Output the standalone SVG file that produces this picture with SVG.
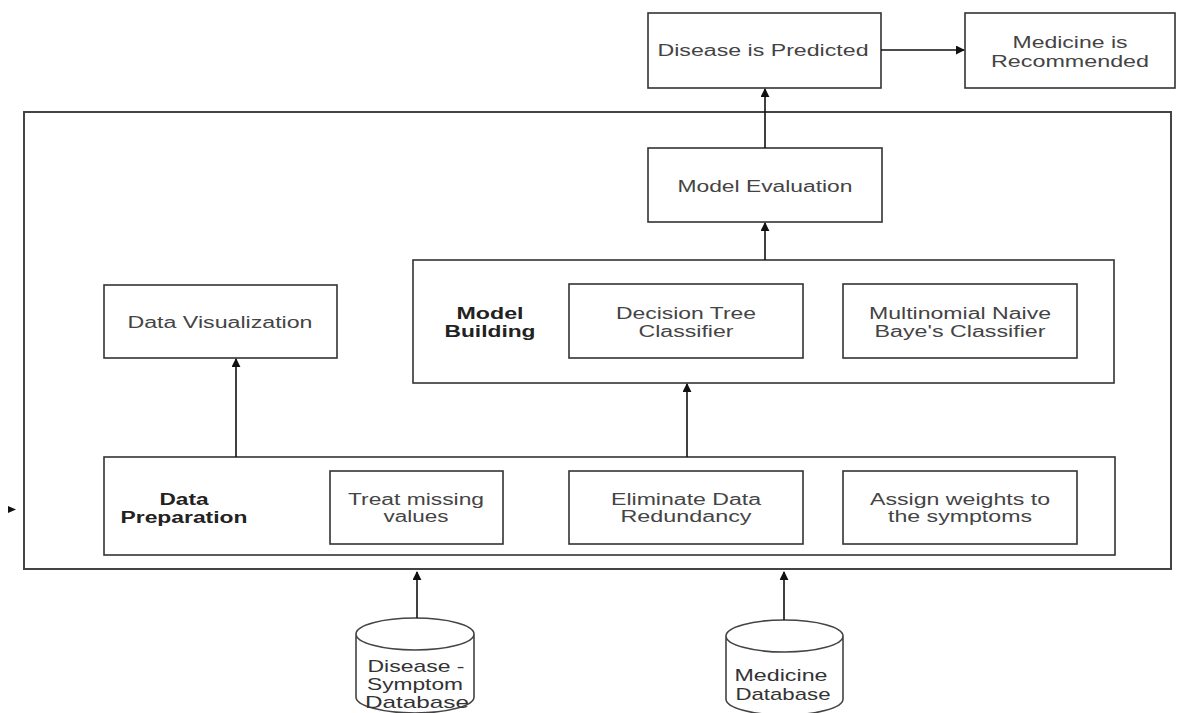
<svg xmlns="http://www.w3.org/2000/svg" width="1191" height="713" viewBox="0 0 1191 713">
<defs>
<marker id="ah" viewBox="0 0 10 10" refX="9" refY="5" markerWidth="9" markerHeight="9" markerUnits="userSpaceOnUse" orient="auto">
<path d="M0,0 L10,5 L0,10 z" fill="#111"/>
</marker>
<style>
.box{fill:#fff;stroke:#333;stroke-width:1.6}
.outer{fill:none;stroke:#444;stroke-width:2}
.t{font-family:"Liberation Sans",Arial,sans-serif;font-size:16px;fill:#444;text-anchor:middle}
.b{font-weight:bold;fill:#222}
.d{font-size:17px;fill:#333}
.db{fill:#fff;stroke:#444;stroke-width:1.6}
.conn{stroke:#111;stroke-width:1.6;fill:none}
</style>
</defs>
<rect width="1191" height="713" fill="#fff"/>
<g id="outer"><rect class="outer" x="24" y="112" width="1147" height="457"/></g>
<g id="disease-predicted"><rect class="box" x="648" y="13" width="233" height="75"/>
<text class="t" x="763" y="56" textLength="211" lengthAdjust="spacingAndGlyphs">Disease is Predicted</text></g>
<g id="medicine-recommended"><rect class="box" x="965" y="13" width="210" height="75"/>
<text class="t" x="1070" y="48" textLength="115" lengthAdjust="spacingAndGlyphs">Medicine is</text>
<text class="t" x="1070" y="67" textLength="158" lengthAdjust="spacingAndGlyphs">Recommended</text></g>
<g id="model-evaluation"><rect class="box" x="648" y="148" width="234" height="74"/>
<text class="t" x="765" y="192" textLength="175" lengthAdjust="spacingAndGlyphs">Model Evaluation</text></g>
<g id="model-building"><rect class="box" x="413" y="260" width="701" height="123"/>
<text class="t b" x="490" y="319" textLength="67" lengthAdjust="spacingAndGlyphs">Model</text>
<text class="t b" x="490" y="337" textLength="91" lengthAdjust="spacingAndGlyphs">Building</text></g>
<g id="decision-tree"><rect class="box" x="569" y="284" width="234" height="74"/>
<text class="t" x="686" y="319" textLength="140" lengthAdjust="spacingAndGlyphs">Decision Tree</text>
<text class="t" x="686" y="337" textLength="95" lengthAdjust="spacingAndGlyphs">Classifier</text></g>
<g id="naive-bayes"><rect class="box" x="843" y="284" width="234" height="74"/>
<text class="t" x="960" y="319" textLength="182" lengthAdjust="spacingAndGlyphs">Multinomial Naive</text>
<text class="t" x="960" y="337" textLength="171" lengthAdjust="spacingAndGlyphs">Baye's Classifier</text></g>
<g id="data-visualization"><rect class="box" x="104" y="285" width="233" height="73"/>
<text class="t" x="220" y="328" textLength="185" lengthAdjust="spacingAndGlyphs">Data Visualization</text></g>
<g id="data-preparation"><rect class="box" x="104" y="457" width="1011" height="98"/>
<text class="t b" x="184" y="505" textLength="49" lengthAdjust="spacingAndGlyphs">Data</text>
<text class="t b" x="184" y="523" textLength="127" lengthAdjust="spacingAndGlyphs">Preparation</text></g>
<g id="treat-missing"><rect class="box" x="330" y="471" width="173" height="73"/>
<text class="t" x="416" y="505" textLength="136" lengthAdjust="spacingAndGlyphs">Treat missing</text>
<text class="t" x="416" y="522" textLength="65" lengthAdjust="spacingAndGlyphs">values</text></g>
<g id="eliminate-redundancy"><rect class="box" x="569" y="471" width="234" height="73"/>
<text class="t" x="686" y="505" textLength="150" lengthAdjust="spacingAndGlyphs">Eliminate Data</text>
<text class="t" x="686" y="522" textLength="131" lengthAdjust="spacingAndGlyphs">Redundancy</text></g>
<g id="assign-weights"><rect class="box" x="843" y="471" width="234" height="73"/>
<text class="t" x="960" y="505" textLength="180" lengthAdjust="spacingAndGlyphs">Assign weights to</text>
<text class="t" x="960" y="522" textLength="144" lengthAdjust="spacingAndGlyphs">the symptoms</text></g>
<g id="disease-symptom-db">
<path class="db" d="M356,634 L356,697 A59,16 0 0 0 474,697 L474,634 A59,16 0 0 0 356,634 A59,16 0 0 0 474,634"/>
<text class="t d" x="416" y="672" textLength="97" lengthAdjust="spacingAndGlyphs">Disease -</text>
<text class="t d" x="415" y="690" textLength="96" lengthAdjust="spacingAndGlyphs">Symptom</text>
<text class="t d" x="417" y="708" textLength="104" lengthAdjust="spacingAndGlyphs">Database</text></g>
<g id="medicine-db">
<path class="db" d="M726,636 L726,699 A58.5,16 0 0 0 843,699 L843,636 A58.5,16 0 0 0 726,636 A58.5,16 0 0 0 843,636"/>
<text class="t d" x="781" y="681" textLength="93" lengthAdjust="spacingAndGlyphs">Medicine</text>
<text class="t d" x="783" y="700" textLength="95" lengthAdjust="spacingAndGlyphs">Database</text></g>
<g id="connectors">
<line class="conn" x1="881" y1="50" x2="964" y2="50" marker-end="url(#ah)"/>
<line class="conn" x1="765" y1="148" x2="765" y2="89" marker-end="url(#ah)"/>
<line class="conn" x1="765" y1="260" x2="765" y2="223" marker-end="url(#ah)"/>
<line class="conn" x1="687" y1="457" x2="687" y2="384" marker-end="url(#ah)"/>
<line class="conn" x1="236" y1="457" x2="236" y2="359" marker-end="url(#ah)"/>
<line class="conn" x1="417" y1="618" x2="417" y2="572" marker-end="url(#ah)"/>
<line class="conn" x1="784" y1="620" x2="784" y2="572" marker-end="url(#ah)"/>
<path d="M8,506 L16,509.5 L8,513 z" fill="#111"/>
</g>
</svg>
